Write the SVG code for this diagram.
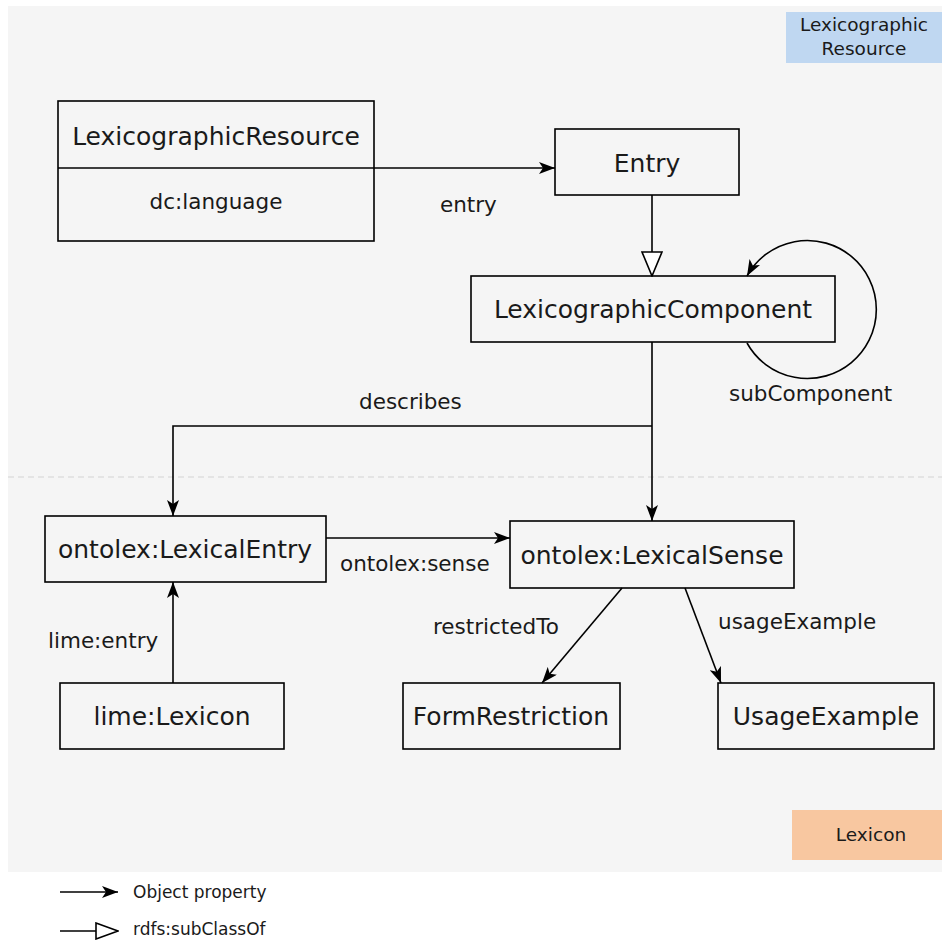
<svg xmlns="http://www.w3.org/2000/svg" width="948" height="940" viewBox="0 0 948 940">
<style>
.box{fill:none;stroke:#000;stroke-width:1.6}
.t{font-family:"DejaVu Sans",sans-serif;font-size:25px;fill:#1a1a1a;text-anchor:middle}
.s{font-family:"DejaVu Sans",sans-serif;font-size:21.5px;fill:#1a1a1a}
.c{fill:none;stroke:#000;stroke-width:1.6}
.lg{font-family:"DejaVu Sans",sans-serif;font-size:17px;fill:#1a1a1a}
.lb{font-family:"DejaVu Sans",sans-serif;font-size:18.5px;fill:#1a1a1a;text-anchor:middle}
</style>
<defs>
<marker id="a" viewBox="0 0 16 12" refX="16" refY="6" markerWidth="16" markerHeight="12" markerUnits="userSpaceOnUse" orient="auto">
<path d="M0,0 L16,6 L0,12 L4,6 Z" fill="#000"/>
</marker>
<marker id="tri" viewBox="0 0 26 22" refX="25" refY="11" markerWidth="26" markerHeight="22" markerUnits="userSpaceOnUse" orient="auto">
<path d="M1,1 L25,11 L1,21 Z" fill="#fff" stroke="#000" stroke-width="1.6"/>
</marker>
<marker id="tri2" viewBox="0 0 24 18" refX="23" refY="9" markerWidth="24" markerHeight="18" markerUnits="userSpaceOnUse" orient="auto">
<path d="M1,1 L23,9 L1,17 Z" fill="#fff" stroke="#000" stroke-width="1.6"/>
</marker>
</defs>
<rect x="0" y="0" width="948" height="940" fill="#ffffff"/>
<rect x="8" y="6" width="934" height="866" fill="#f5f5f5"/>
<line x1="8" y1="477" x2="942" y2="477" stroke="#e4e4e4" stroke-width="2" stroke-dasharray="6,4"/>
<g id="legend-lexres">
<rect x="786" y="12" width="156" height="51" fill="#bfd7f1"/>
<text x="864" y="31" class="lb">Lexicographic</text>
<text x="864" y="55" class="lb">Resource</text>
</g>
<g id="legend-lexicon">
<rect x="792" y="810" width="150" height="50" fill="#f8c7a0"/>
<text x="871" y="841" class="lb">Lexicon</text>
</g>
<g id="connectors">
<line class="c" x1="374" y1="168" x2="555" y2="168" marker-end="url(#a)"/>
<text class="s" x="440" y="212">entry</text>
<line class="c" x1="652" y1="195" x2="652" y2="276" marker-end="url(#tri)"/>
<path class="c" d="M747,343 A69,69 0 1 0 747,276" marker-end="url(#a)"/>
<text class="s" x="729" y="401">subComponent</text>
<line class="c" x1="652" y1="342" x2="652" y2="521" marker-end="url(#a)"/>
<polyline class="c" points="652,426 173,426 173,516" marker-end="url(#a)"/>
<text class="s" x="359" y="409">describes</text>
<line class="c" x1="326" y1="538" x2="510" y2="538" marker-end="url(#a)"/>
<text class="s" x="340" y="571">ontolex:sense</text>
<line class="c" x1="173" y1="683" x2="173" y2="582" marker-end="url(#a)"/>
<text class="s" x="48" y="648">lime:entry</text>
<line class="c" x1="622" y1="588" x2="542" y2="683" marker-end="url(#a)"/>
<text class="s" x="433" y="634">restrictedTo</text>
<line class="c" x1="685" y1="588" x2="721" y2="683" marker-end="url(#a)"/>
<text class="s" x="718" y="629">usageExample</text>
</g>
<g id="LexicographicResource">
<rect class="box" x="58" y="101" width="316" height="140" fill="#f5f5f5"/>
<line class="box" x1="58" y1="168" x2="374" y2="168"/>
<text class="t" x="216" y="145">LexicographicResource</text>
<text class="t" x="216" y="209" style="font-size:21.5px">dc:language</text>
</g>
<g id="Entry">
<rect class="box" x="555" y="129" width="184" height="66"/>
<text class="t" x="647" y="172">Entry</text>
</g>
<g id="LexicographicComponent">
<rect class="box" x="471" y="276" width="364" height="66"/>
<text class="t" x="653" y="318">LexicographicComponent</text>
</g>
<g id="LexicalEntry">
<rect class="box" x="45" y="516" width="281" height="66"/>
<text class="t" x="185" y="558">ontolex:LexicalEntry</text>
</g>
<g id="LexicalSense">
<rect class="box" x="510" y="521" width="284" height="67"/>
<text class="t" x="652" y="564">ontolex:LexicalSense</text>
</g>
<g id="Lexicon">
<rect class="box" x="60" y="683" width="224" height="66"/>
<text class="t" x="172" y="725">lime:Lexicon</text>
</g>
<g id="FormRestriction">
<rect class="box" x="403" y="683" width="217" height="66"/>
<text class="t" x="511" y="725">FormRestriction</text>
</g>
<g id="UsageExample">
<rect class="box" x="718" y="683" width="216" height="66"/>
<text class="t" x="826" y="725">UsageExample</text>
</g>
<g id="legend">
<line class="c" x1="60" y1="892" x2="118" y2="892" marker-end="url(#a)"/>
<text class="lg" x="133" y="898">Object property</text>
<line class="c" x1="60" y1="931" x2="118" y2="931" marker-end="url(#tri2)"/>
<text class="lg" x="133" y="935">rdfs:subClassOf</text>
</g>
</svg>
